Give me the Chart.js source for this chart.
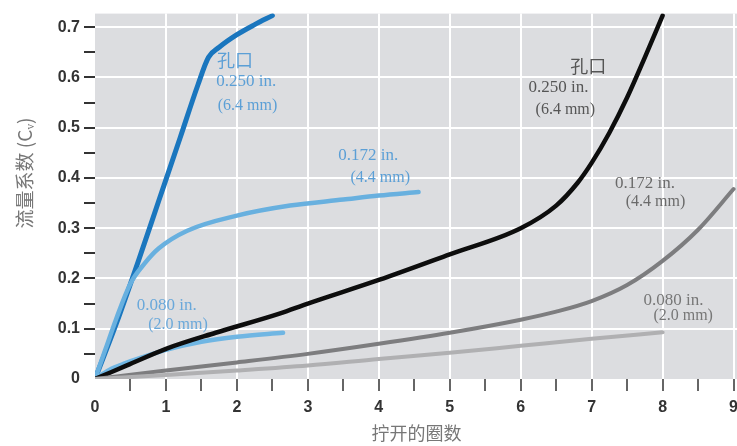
<!DOCTYPE html>
<html>
<head>
<meta charset="utf-8">
<script src="https://cdn.jsdelivr.net/npm/chart.js@4.4.1/dist/chart.umd.min.js"></script>
<style>
  html, body { margin: 0; padding: 0; background: #fff; overflow: hidden; }
  /* a little wider than the window so the plot runs to the right edge like the original */
  #box { width: 745px; height: 446px; position: relative; }
</style>
</head>
<body>
<div id="box"><canvas id="flow"></canvas></div>
<script>
// turns opened (x) and flow coefficient Cv (y), one pair of arrays per curve
const orifice250X = [0, 0.3, 0.6, 0.9, 1.2, 1.45, 1.6, 1.75, 2, 2.25, 2.5];
const orifice250Y = [0, 0.11, 0.23, 0.355, 0.48, 0.585, 0.64, 0.66, 0.685, 0.705, 0.723];

const orifice172X = [0, 0.15, 0.3, 0.5, 0.7, 0.9, 1.3, 2, 2.75, 3.5, 4, 4.56];
const orifice172Y = [0, 0.06, 0.12, 0.19, 0.23, 0.26, 0.295, 0.325, 0.345, 0.357, 0.365, 0.372];

const orifice080X = [0, 0.2, 0.4, 0.64, 1, 1.5, 2, 2.65];
const orifice080Y = [0, 0.018, 0.03, 0.042, 0.058, 0.074, 0.084, 0.092];

const needle250X = [0, 0.45, 1, 1.7, 2.6, 3, 4, 5, 6, 6.5, 6.8, 7, 7.25, 7.5, 7.75, 8];
const needle250Y = [0, 0.027, 0.06, 0.092, 0.13, 0.15, 0.197, 0.248, 0.30, 0.345, 0.39, 0.43, 0.49, 0.56, 0.64, 0.723];

const needle172X = [0, 1, 2, 3, 4, 5, 6, 6.5, 7, 7.5, 8, 8.5, 9];
const needle172Y = [0, 0.017, 0.033, 0.05, 0.07, 0.092, 0.118, 0.134, 0.155, 0.187, 0.235, 0.297, 0.378];

const needle080X = [0, 1, 2, 3, 4, 5, 6, 7, 8];
const needle080Y = [0, 0.008, 0.017, 0.027, 0.04, 0.052, 0.066, 0.08, 0.093];

const xTicks = [0, 0.5, 1, 1.5, 2, 2.5, 3, 3.5, 4, 4.5, 5, 5.5, 6, 6.5, 7, 7.5, 8, 8.5, 9];
const yTicks = [0, 0.05, 0.1, 0.15, 0.2, 0.25, 0.3, 0.35, 0.4, 0.45, 0.5, 0.55, 0.6, 0.65, 0.7];

const xTitle = "拧开的圈数";
const yTitle = "流量系数 (Cᵥ)";

// curve labels, placed in data units
const notes = [
  { text: "孔口", x: 1.72, y: 0.634, color: "#5b9fd6", cjk: true },
  { text: "0.250 in.", x: 1.71, y: 0.592, color: "#5b9fd6" },
  { text: "(6.4 mm)", x: 1.73, y: 0.544, color: "#5b9fd6", small: true },
  { text: "0.172 in.", x: 3.43, y: 0.445, color: "#5b9fd6" },
  { text: "(4.4 mm)", x: 3.60, y: 0.400, color: "#5b9fd6", small: true },
  { text: "0.080 in.", x: 0.59, y: 0.147, color: "#6aa8da" },
  { text: "(2.0 mm)", x: 0.75, y: 0.107, color: "#6aa8da", small: true },
  { text: "孔口", x: 6.70, y: 0.623, color: "#555", cjk: true },
  { text: "0.250 in.", x: 6.11, y: 0.580, color: "#555" },
  { text: "(6.4 mm)", x: 6.21, y: 0.536, color: "#555", small: true },
  { text: "0.172 in.", x: 7.33, y: 0.388, color: "#6a6a6a" },
  { text: "(4.4 mm)", x: 7.48, y: 0.352, color: "#6a6a6a", small: true },
  { text: "0.080 in.", x: 7.73, y: 0.157, color: "#777" },
  { text: "(2.0 mm)", x: 7.87, y: 0.125, color: "#777", small: true },
];

const pairs = (xs, ys) => xs.map((x, i) => ({ x: x, y: ys[i] }));

const isStep = (v, step) => Math.abs(v / step - Math.round(v / step)) < 1e-6;

const line = (xs, ys, color, width) => ({
  data: pairs(xs, ys),
  borderColor: color,
  borderWidth: width,
  pointRadius: 0,
  fill: false,
  cubicInterpolationMode: "monotone",
  borderCapStyle: "round",
});

const plotBack = {
  id: "plotBack",
  beforeDraw(chart) {
    const a = chart.chartArea;
    const ctx = chart.ctx;
    ctx.save();
    ctx.fillStyle = "#dcdde0";
    ctx.fillRect(a.left, a.top, a.right - a.left, a.bottom - a.top);
    ctx.restore();
  },
};

const curveNotes = {
  id: "curveNotes",
  afterDatasetsDraw(chart) {
    const ctx = chart.ctx;
    const xs = chart.scales.x, ys = chart.scales.y;
    ctx.save();
    ctx.textBaseline = "middle";
    ctx.textAlign = "left";
    for (const n of notes) {
      if (n.cjk) ctx.font = '18px "Noto Sans CJK SC"';
      else if (n.small) ctx.font = '16px "Liberation Serif"';
      else ctx.font = '17px "Liberation Serif"';
      ctx.fillStyle = n.color;
      ctx.fillText(n.text, xs.getPixelForValue(n.x), ys.getPixelForValue(n.y));
    }
    // y axis title, sits a little above the middle like the original
    ctx.translate(25, 173);
    ctx.rotate(-Math.PI / 2);
    ctx.textAlign = "center";
    ctx.fillStyle = "#777";
    ctx.font = '19px "Noto Sans CJK SC"';
    ctx.fillText(yTitle, 0, 0);
    ctx.restore();
  },
};

new Chart(document.getElementById("flow"), {
  type: "line",
  data: {
    datasets: [
      line(needle080X, needle080Y, "#b0b0b2", 4),
      line(needle172X, needle172Y, "#7d7d7f", 4),
      line(needle250X, needle250Y, "#0d0d0d", 4.5),
      line(orifice080X, orifice080Y, "#70b6e3", 4.5),
      line(orifice172X, orifice172Y, "#68b0df", 4.5),
      line(orifice250X, orifice250Y, "#1a76be", 5),
    ],
  },
  options: {
    responsive: true,
    maintainAspectRatio: false,
    animation: false,
    layout: { padding: { top: 7, right: 0, bottom: 2, left: 0 } },
    plugins: {
      legend: { display: false },
      tooltip: { enabled: false },
    },
    scales: {
      x: {
        type: "linear",
        min: 0,
        max: 9.06,
        border: { display: false },
        afterBuildTicks: (s) => { s.ticks = xTicks.map((v) => ({ value: v })); },
        grid: {
          color: (c) => (isStep(c.tick.value, 1) && c.tick.value > 0 ? "#ffffff" : "transparent"),
          tickColor: (c) => (c.tick.value > 0 ? "#333" : "transparent"),
          lineWidth: 2,
          tickWidth: 1.5,
          tickLength: 12,
        },
        ticks: {
          autoSkip: false,
          maxRotation: 0,
          padding: 7,
          color: "#333",
          font: { family: "Liberation Sans", size: 16, weight: "bold" },
          callback: (v) => (isStep(v, 1) ? String(Math.round(v)) : ""),
        },
        title: {
          display: true,
          text: xTitle,
          color: "#777",
          padding: { top: 2, bottom: 0 },
          font: { family: "Noto Sans CJK SC", size: 18 },
        },
        afterFit: (s) => { s.height = 65; },
      },
      y: {
        min: 0,
        max: 0.727,
        border: { display: false },
        afterBuildTicks: (s) => { s.ticks = yTicks.map((v) => ({ value: v })); },
        grid: {
          color: (c) => (isStep(c.tick.value, 0.1) && c.tick.value > 0 ? "#ffffff" : "transparent"),
          tickColor: (c) => (c.tick.value > 0 ? "#333" : "transparent"),
          lineWidth: 2,
          tickWidth: 2,
          tickLength: 11,
        },
        ticks: {
          autoSkip: false,
          padding: 4,
          color: "#333",
          font: { family: "Liberation Sans", size: 16, weight: "bold" },
          callback: (v) => (isStep(v, 0.1) ? (v === 0 ? "0" : v.toFixed(1)) : ""),
        },
        afterFit: (s) => { s.width = 95; },
      },
    },
  },
  plugins: [plotBack, curveNotes],
});
</script>
</body>
</html>
